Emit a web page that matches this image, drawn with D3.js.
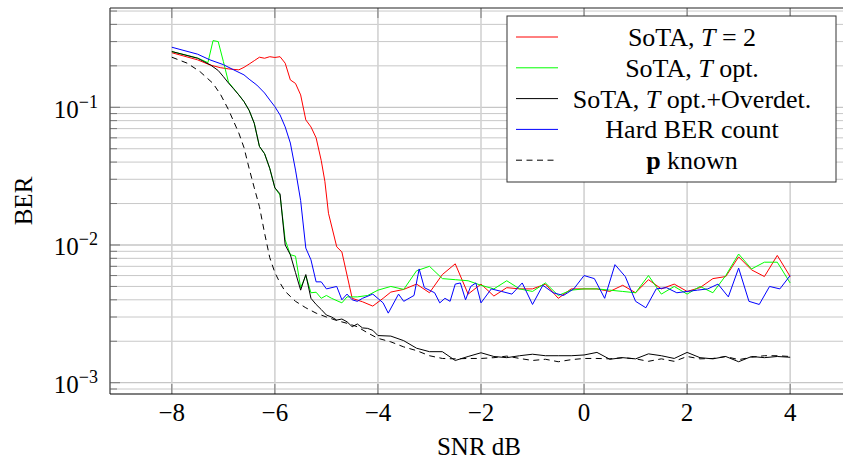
<!DOCTYPE html>
<html>
<head>
<meta charset="utf-8">
<script src="https://cdn.jsdelivr.net/npm/d3@7"></script>
<style>
body { margin: 0; background: #fff; }
svg { display: block; font-family: "Liberation Serif", "DejaVu Serif", serif; }
</style>
</head>
<body>
<svg id="chart" width="843" height="463"></svg>
<script>
// tick values
const xTicks = [-8, -6, -4, -2, 0, 2, 4];
const yDecades = [1e-3, 1e-2, 1e-1];

// [SNR dB, BER]
const sotaT2 = [
  [-8, 0.249], [-7.5, 0.221], [-7.26, 0.203], [-7.06, 0.194], [-6.9, 0.19], [-6.7, 0.187],
  [-6.6, 0.195], [-6.5, 0.206], [-6.4, 0.218], [-6.3, 0.231], [-6.2, 0.227], [-6.1, 0.233],
  [-6.0, 0.230], [-5.9, 0.233], [-5.8, 0.209], [-5.7, 0.158], [-5.6, 0.149], [-5.5, 0.123],
  [-5.4, 0.081], [-5.3, 0.072], [-5.2, 0.060], [-5.1, 0.041], [-5.03, 0.029], [-4.96, 0.017],
  [-4.8, 0.0097], [-4.7, 0.0089], [-4.5, 0.0041], [-4.3, 0.00387], [-4.1, 0.0036], [-3.9, 0.0041],
  [-3.75, 0.00455], [-3.5, 0.00476], [-3.25, 0.0052], [-3.0, 0.0045], [-2.75, 0.0061], [-2.5, 0.0073],
  [-2.25, 0.0044], [-2.0, 0.0052], [-1.75, 0.00426], [-1.5, 0.0049], [-1.25, 0.0048], [-1.0, 0.0048],
  [-0.75, 0.0052], [-0.5, 0.0041], [-0.25, 0.0048], [0, 0.0048], [0.25, 0.0048], [0.5, 0.0046],
  [0.75, 0.0051], [1.0, 0.0045], [1.25, 0.0056], [1.5, 0.0048], [1.75, 0.0052], [2.0, 0.0046],
  [2.25, 0.0049], [2.5, 0.0057], [2.75, 0.0059], [3.0, 0.0082], [3.25, 0.0066], [3.5, 0.0059],
  [3.75, 0.0084], [4.0, 0.0059]
];

const sotaTopt = [
  [-8, 0.254], [-7.5, 0.228], [-7.3, 0.211], [-7.2, 0.305], [-7.1, 0.30], [-7.0, 0.215],
  [-6.9, 0.152], [-6.8, 0.137], [-6.7, 0.123], [-6.6, 0.11], [-6.5, 0.095], [-6.4, 0.0765],
  [-6.3, 0.052], [-6.2, 0.046], [-6.1, 0.036], [-6.0, 0.026], [-5.9, 0.023], [-5.8, 0.0109],
  [-5.7, 0.0085], [-5.6, 0.0083], [-5.5, 0.0049], [-5.4, 0.0060], [-5.3, 0.0045], [-5.2, 0.00454],
  [-5.1, 0.0041], [-5.0, 0.0043], [-4.9, 0.0041], [-4.7, 0.0038], [-4.6, 0.0042], [-4.4, 0.0042],
  [-4.2, 0.0043], [-4.0, 0.0047], [-3.75, 0.0050], [-3.5, 0.00476], [-3.25, 0.0065], [-3.0, 0.0070],
  [-2.75, 0.0057], [-2.5, 0.0056], [-2.25, 0.0055], [-2.0, 0.0051], [-1.75, 0.0048], [-1.5, 0.0055],
  [-1.25, 0.0048], [-1.0, 0.0046], [-0.75, 0.0053], [-0.5, 0.0043], [-0.25, 0.0047], [0, 0.0048],
  [0.25, 0.0048], [0.5, 0.0047], [0.75, 0.0046], [1.0, 0.0045], [1.25, 0.0060], [1.5, 0.0044],
  [1.75, 0.0050], [2.0, 0.0044], [2.25, 0.0050], [2.5, 0.0045], [2.75, 0.0060], [3.0, 0.0086],
  [3.25, 0.0067], [3.5, 0.0075], [3.75, 0.0075], [4.0, 0.0053]
];

const sotaOverdet = [
  [-8, 0.254], [-7.5, 0.227], [-7.25, 0.203], [-7.1, 0.185], [-7.0, 0.167], [-6.9, 0.15],
  [-6.8, 0.136], [-6.7, 0.123], [-6.6, 0.11], [-6.5, 0.095], [-6.4, 0.0765], [-6.3, 0.052],
  [-6.2, 0.046], [-6.1, 0.036], [-6.0, 0.026], [-5.9, 0.0235], [-5.8, 0.010], [-5.7, 0.0085],
  [-5.6, 0.0063], [-5.5, 0.0047], [-5.4, 0.0061], [-5.3, 0.0041], [-5.2, 0.0037], [-5.1, 0.0034],
  [-5.0, 0.0031], [-4.9, 0.0030], [-4.8, 0.00285], [-4.7, 0.0029], [-4.6, 0.00277], [-4.5, 0.00255],
  [-4.4, 0.00267], [-4.3, 0.0025], [-4.2, 0.00248], [-4.1, 0.0024], [-4.0, 0.0022], [-3.75, 0.00218],
  [-3.5, 0.00202], [-3.25, 0.00178], [-3.0, 0.00168], [-2.75, 0.00168], [-2.5, 0.00145], [-2.25, 0.00155],
  [-2.0, 0.00165], [-1.75, 0.00155], [-1.5, 0.00152], [-1.25, 0.00157], [-1.0, 0.00161], [-0.75, 0.00157],
  [-0.5, 0.00157], [-0.25, 0.00157], [0, 0.00159], [0.25, 0.00166], [0.5, 0.00148], [0.75, 0.00152],
  [1.0, 0.00149], [1.25, 0.00162], [1.5, 0.00157], [1.75, 0.0015], [2.0, 0.00166], [2.25, 0.00152],
  [2.5, 0.00149], [2.75, 0.00155], [3.0, 0.00142], [3.25, 0.00155], [3.5, 0.00152], [3.75, 0.00155],
  [4.0, 0.00153]
];

const hardBer = [
  [-8, 0.273], [-7.5, 0.243], [-7.26, 0.221], [-7.0, 0.204], [-6.8, 0.187], [-6.6, 0.172],
  [-6.5, 0.160], [-6.35, 0.145], [-6.2, 0.127], [-6.1, 0.113], [-6.0, 0.101], [-5.9, 0.088],
  [-5.8, 0.072], [-5.7, 0.055], [-5.6, 0.035], [-5.5, 0.021], [-5.4, 0.0095], [-5.3, 0.0078],
  [-5.2, 0.0054], [-5.1, 0.0054], [-5.0, 0.0048], [-4.8, 0.0050], [-4.7, 0.0040], [-4.6, 0.0044],
  [-4.5, 0.0040], [-4.4, 0.0039], [-4.3, 0.0041], [-4.1, 0.0044], [-3.9, 0.0038], [-3.8, 0.0032],
  [-3.6, 0.0044], [-3.5, 0.0039], [-3.3, 0.0043], [-3.2, 0.0067], [-3.1, 0.0049], [-2.9, 0.0045],
  [-2.8, 0.0038], [-2.7, 0.0041], [-2.6, 0.0039], [-2.5, 0.0052], [-2.4, 0.0053], [-2.3, 0.0040],
  [-2.2, 0.0050], [-2.1, 0.0053], [-2.0, 0.0038], [-1.8, 0.0048], [-1.6, 0.0046], [-1.4, 0.0044],
  [-1.2, 0.0053], [-1.0, 0.0037], [-0.8, 0.0051], [-0.6, 0.0045], [-0.4, 0.0043], [-0.2, 0.0048],
  [0, 0.0060], [0.2, 0.0057], [0.4, 0.0041], [0.6, 0.0072], [0.8, 0.0059], [1.0, 0.0039],
  [1.2, 0.0035], [1.4, 0.0048], [1.6, 0.0049], [1.8, 0.0045], [2.0, 0.0046], [2.2, 0.0047],
  [2.4, 0.0048], [2.6, 0.0052], [2.8, 0.0042], [3.0, 0.0068], [3.2, 0.0039], [3.4, 0.0037],
  [3.6, 0.0050], [3.8, 0.0048], [4.0, 0.0060]
];

const pKnown = [
  [-8, 0.231], [-7.7, 0.209], [-7.45, 0.181], [-7.2, 0.149], [-7.05, 0.123], [-6.9, 0.096],
  [-6.8, 0.079], [-6.7, 0.065], [-6.6, 0.051], [-6.5, 0.036], [-6.4, 0.026], [-6.3, 0.019],
  [-6.2, 0.0122], [-6.1, 0.0081], [-6.0, 0.0063], [-5.9, 0.0053], [-5.8, 0.0046], [-5.6, 0.0039],
  [-5.4, 0.0035], [-5.2, 0.0032], [-5.0, 0.0030], [-4.8, 0.00283], [-4.6, 0.0027], [-4.4, 0.00255],
  [-4.2, 0.0023], [-4.0, 0.0021], [-3.75, 0.00198], [-3.5, 0.00182], [-3.25, 0.00171], [-3.0, 0.00157],
  [-2.75, 0.0015], [-2.5, 0.00149], [-2.25, 0.0015], [-2.0, 0.0015], [-1.75, 0.00152], [-1.5, 0.00156],
  [-1.25, 0.0015], [-1.0, 0.00145], [-0.75, 0.00148], [-0.5, 0.00142], [-0.25, 0.00147], [0, 0.0015],
  [0.25, 0.0015], [0.5, 0.00149], [0.75, 0.00152], [1.0, 0.00149], [1.25, 0.00143], [1.5, 0.00149],
  [1.75, 0.00143], [2.0, 0.00155], [2.25, 0.00149], [2.5, 0.0015], [2.75, 0.00155], [3.0, 0.00147],
  [3.25, 0.00153], [3.5, 0.00157], [3.75, 0.00157], [4.0, 0.00155]
];

// legend labels as [text, style] pieces
const legendLabels = [
  [["SoTA, ", ""], ["T", "i"], [" = 2", ""]],
  [["SoTA, ", ""], ["T", "i"], [" opt.", ""]],
  [["SoTA, ", ""], ["T", "i"], [" opt.+Overdet.", ""]],
  [["Hard BER count", ""]],
  [["p", "b"], [" known", ""]]
];

const series = [
  {data: sotaT2, color: "#ff0000", dash: null},
  {data: sotaTopt, color: "#00ff00", dash: null},
  {data: sotaOverdet, color: "#000000", dash: null},
  {data: hardBer, color: "#0000ff", dash: null},
  {data: pKnown, color: "#000000", dash: "6,4.5"}
];

let svg = d3.select("#chart"),
    margin = {top: 8, left: 110},
    plotW = 742,
    plotH = 386;

let x = d3.scaleLinear().domain([-9.2, 5.2]).range([margin.left, margin.left + plotW]);
let y = d3.scaleLog().domain([Math.pow(10, -3.082), Math.pow(10, -0.279)])
    .range([margin.top + plotH, margin.top]);

let x0 = margin.left, x1 = margin.left + plotW, y0 = margin.top, y1 = margin.top + plotH;

// minor y values (2..9 of each decade inside the domain)
let yMinor = [];
[1e-4, 1e-3, 1e-2, 1e-1].forEach(function(dec) {
    for (let k = 2; k <= 9; k++) {
        let v = dec * k;
        if (v > y.domain()[0] && v < y.domain()[1]) yMinor.push(v);
    }
});

let grid = svg.append("g");
grid.selectAll(".minor").data(yMinor).enter().append("line")
    .attr("x1", x0).attr("x2", x1)
    .attr("y1", d => y(d)).attr("y2", d => y(d))
    .attr("stroke", "#c2c2c2").attr("stroke-width", 0.9);
grid.selectAll(".majy").data(yDecades).enter().append("line")
    .attr("x1", x0).attr("x2", x1)
    .attr("y1", d => y(d)).attr("y2", d => y(d))
    .attr("stroke", "#c6c6c6").attr("stroke-width", 1.3);
grid.selectAll(".majx").data(xTicks).enter().append("line")
    .attr("x1", d => x(d)).attr("x2", d => x(d))
    .attr("y1", y0).attr("y2", y1)
    .attr("stroke", "#d2d2d2").attr("stroke-width", 1.6);

// tick marks (inward)
let ticks = svg.append("g").attr("stroke", "#777").attr("stroke-width", 1);
ticks.selectAll(".tb").data(xTicks).enter().append("line")
    .attr("x1", d => x(d)).attr("x2", d => x(d)).attr("y1", y1).attr("y2", y1 - 10);
ticks.selectAll(".tt").data(xTicks).enter().append("line")
    .attr("x1", d => x(d)).attr("x2", d => x(d)).attr("y1", y0).attr("y2", y0 + 10);
ticks.selectAll(".tl").data(yDecades).enter().append("line")
    .attr("x1", x0).attr("x2", x0 + 10).attr("y1", d => y(d)).attr("y2", d => y(d));
ticks.selectAll(".tlm").data(yMinor).enter().append("line")
    .attr("x1", x0).attr("x2", x0 + 7).attr("y1", d => y(d)).attr("y2", d => y(d));

// lines
let line = d3.line().x(d => x(d[0])).y(d => y(d[1]));
svg.append("g").selectAll("path").data(series).enter().append("path")
    .attr("d", d => line(d.data))
    .attr("fill", "none")
    .attr("stroke", d => d.color)
    .attr("stroke-width", 1)
    .attr("stroke-linejoin", "round")
    .attr("stroke-dasharray", d => d.dash);

// axis box
svg.append("line").attr("x1", x0).attr("x2", x0).attr("y1", y0).attr("y2", y1)
    .attr("stroke", "#555").attr("stroke-width", 1.4);
svg.append("line").attr("x1", x0).attr("x2", x1).attr("y1", y0).attr("y2", y0)
    .attr("stroke", "#222").attr("stroke-width", 1.2);
svg.append("line").attr("x1", x0).attr("x2", x1).attr("y1", y1).attr("y2", y1)
    .attr("stroke", "#000").attr("stroke-width", 1.2);

// tick labels
svg.append("g").selectAll("text").data(xTicks).enter().append("text")
    .attr("x", d => x(d)).attr("y", 421)
    .attr("text-anchor", "middle")
    .style("font-size", "25px")
    .text(d => d < 0 ? "\u2212" + Math.abs(d) : d);

let yl = svg.append("g").selectAll("text").data(yDecades).enter().append("text")
    .attr("x", 98).attr("y", d => y(d) + 10.5)
    .attr("text-anchor", "end")
    .style("font-size", "25px");
yl.append("tspan").text("10");
yl.append("tspan").attr("dy", -10).style("font-size", "18px")
    .text(d => "\u2212" + Math.round(-Math.log10(d)));

svg.append("text").attr("x", 479).attr("y", 455)
    .attr("text-anchor", "middle").style("font-size", "25px").text("SNR dB");
svg.append("text").attr("transform", "translate(32," + ((y0 + y1) / 2) + ") rotate(-90)")
    .attr("text-anchor", "middle").style("font-size", "25px").text("BER");

// legend
let lg = svg.append("g");
lg.append("rect").attr("x", 507).attr("y", 16).attr("width", 329).attr("height", 166)
    .attr("fill", "#fff").attr("stroke", "#333").attr("stroke-width", 1);
let rows = lg.selectAll(".row").data(series).enter().append("g")
    .attr("transform", (d, i) => "translate(0," + (37 + i * 30.8) + ")");
rows.append("line").attr("x1", 516).attr("x2", 558).attr("y1", 0).attr("y2", 0)
    .attr("stroke", d => d.color).attr("stroke-width", 1)
    .attr("stroke-dasharray", d => d.dash);
let lt = rows.append("text").attr("x", 692).attr("y", 9)
    .attr("text-anchor", "middle").style("font-size", "26px");
lt.each(function(d, i) {
    let t = d3.select(this);
    legendLabels[i].forEach(function(p) {
        let s = t.append("tspan").text(p[0]);
        if (p[1] === "i") s.style("font-style", "italic");
        if (p[1] === "b") s.style("font-weight", "bold");
    });
});
</script>
</body>
</html>
